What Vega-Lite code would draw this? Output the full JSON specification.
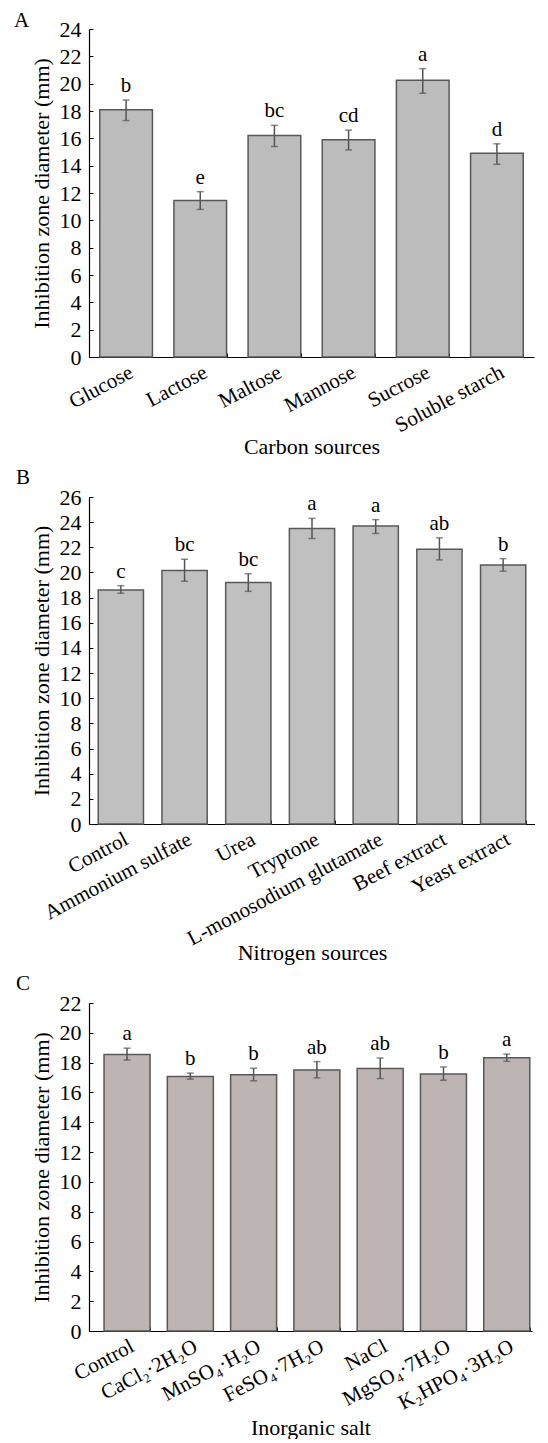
{
  "$schema": "https://vega.github.io/schema/vega-lite/v6.json",
  "background": "white",
  "padding": {"left": 14, "top": 10, "right": 0, "bottom": 0},
  "spacing": 9,
  "config": {
    "view": {"stroke": null},
    "font": "Liberation Serif",
    "title": {"font": "Liberation Serif", "fontSize": 21, "fontWeight": "normal", "color": "#000", "anchor": "start"},
    "axis": {
      "grid": false,
      "domainColor": "#000",
      "domainWidth": 1.2,
      "tickColor": "#000",
      "tickWidth": 1,
      "labelFont": "Liberation Serif",
      "labelFontSize": 21,
      "labelColor": "#000",
      "labelOverlap": false,
      "labelLimit": 0,
      "titleFont": "Liberation Serif",
      "titleFontSize": 22,
      "titleFontWeight": "normal",
      "titleColor": "#000"
    },
    "axisY": {"labelFontSize": 22, "tickSize": -4, "labelPadding": 12, "titlePadding": 6, "labelOverlap": false}
  },
  "datasets": {
    "A": [
      {"cat": "Glucose", "mean": 18.1, "lo": 17.3, "hi": 18.8, "letter": "b"},
      {"cat": "Lactose", "mean": 11.45, "lo": 10.8, "hi": 12.1, "letter": "e"},
      {"cat": "Maltose", "mean": 16.2, "lo": 15.4, "hi": 16.95, "letter": "bc"},
      {"cat": "Mannose", "mean": 15.9, "lo": 15.15, "hi": 16.6, "letter": "cd"},
      {"cat": "Sucrose", "mean": 20.25, "lo": 19.3, "hi": 21.1, "letter": "a"},
      {"cat": "Soluble starch", "mean": 14.9, "lo": 14.1, "hi": 15.6, "letter": "d"}
    ],
    "B": [
      {"cat": "Control", "mean": 18.6, "lo": 18.35, "hi": 18.95, "letter": "c"},
      {"cat": "Ammonium sulfate", "mean": 20.15, "lo": 19.3, "hi": 21.05, "letter": "bc"},
      {"cat": "Urea", "mean": 19.2, "lo": 18.5, "hi": 19.9, "letter": "bc"},
      {"cat": "Tryptone", "mean": 23.5, "lo": 22.7, "hi": 24.3, "letter": "a"},
      {"cat": "L-monosodium glutamate", "mean": 23.7, "lo": 23.1, "hi": 24.2, "letter": "a"},
      {"cat": "Beef extract", "mean": 21.85, "lo": 21.0, "hi": 22.75, "letter": "ab"},
      {"cat": "Yeast extract", "mean": 20.6, "lo": 20.1, "hi": 21.1, "letter": "b"}
    ],
    "C": [
      {"cat": "Control", "mean": 18.55, "lo": 18.17, "hi": 18.97, "letter": "a"},
      {"cat": "CaCl₂·2H₂O", "mean": 17.07, "lo": 16.89, "hi": 17.3, "letter": "b"},
      {"cat": "MnSO₄·H₂O", "mean": 17.18, "lo": 16.78, "hi": 17.62, "letter": "b"},
      {"cat": "FeSO₄·7H₂O", "mean": 17.5, "lo": 16.98, "hi": 18.07, "letter": "ab"},
      {"cat": "NaCl", "mean": 17.6, "lo": 16.93, "hi": 18.31, "letter": "ab"},
      {"cat": "MgSO₄·7H₂O", "mean": 17.24, "lo": 16.82, "hi": 17.71, "letter": "b"},
      {"cat": "K₂HPO₄·3H₂O", "mean": 18.33, "lo": 18.09, "hi": 18.57, "letter": "a"}
    ]
  },
  "vconcat": [
    {
      "width": 445, "height": 328,
      "title": {"text": "A", "dx": -16, "dy": 5, "offset": -8},
      "data": {"name": "A"},
      "encoding": {
        "x": {"field": "cat", "type": "nominal", "sort": null,
          "scale": {"paddingInner": 0.29, "paddingOuter": 0.145},
          "axis": {"title": "Carbon sources", "labelAngle": -28, "tickBand": "extent", "tickSize": -4, "labelPadding": 8, "titlePadding": 1}}
      },
      "layer": [
        {"mark": {"type": "bar", "fill": "#bcbcbc", "stroke": "#585858", "strokeWidth": 1.5},
         "encoding": {"y": {"field": "mean", "type": "quantitative", "title": "Inhibition zone diameter (mm)", "scale": {"domain": [0, 24], "nice": false},
           "axis": {"values": [0,2,4,6,8,10,12,14,16,18,20,22,24]}}}},
        {"mark": {"type": "errorbar", "ticks": {"size": 7, "color": "#555"}, "color": "#555", "thickness": 1.5},
         "encoding": {"y": {"field": "lo", "type": "quantitative", "title": "Inhibition zone diameter (mm)", "axis": {"values": [0,2,4,6,8,10,12,14,16,18,20,22,24]}}, "y2": {"field": "hi"}}},
        {"mark": {"type": "text", "baseline": "bottom", "dy": -4, "fontSize": 21, "font": "Liberation Serif", "color": "#000"},
         "encoding": {"y": {"field": "hi", "type": "quantitative", "title": "Inhibition zone diameter (mm)", "axis": {"values": [0,2,4,6,8,10,12,14,16,18,20,22,24]}}, "text": {"field": "letter"}}}
      ]
    },
    {
      "width": 446, "height": 327,
      "title": {"text": "B", "dx": -14, "offset": -2},
      "data": {"name": "B"},
      "encoding": {
        "x": {"field": "cat", "type": "nominal", "sort": null,
          "scale": {"paddingInner": 0.29, "paddingOuter": 0.145},
          "axis": {"title": "Nitrogen sources", "labelAngle": -28, "tickBand": "extent", "tickSize": -4, "labelPadding": 8, "titlePadding": -6}}
      },
      "layer": [
        {"mark": {"type": "bar", "fill": "#c0c0c0", "stroke": "#585858", "strokeWidth": 1.5},
         "encoding": {"y": {"field": "mean", "type": "quantitative", "title": "Inhibition zone diameter (mm)", "scale": {"domain": [0, 26], "nice": false},
           "axis": {"values": [0,2,4,6,8,10,12,14,16,18,20,22,24,26]}}}},
        {"mark": {"type": "errorbar", "ticks": {"size": 7, "color": "#555"}, "color": "#555", "thickness": 1.5},
         "encoding": {"y": {"field": "lo", "type": "quantitative", "title": "Inhibition zone diameter (mm)", "axis": {"values": [0,2,4,6,8,10,12,14,16,18,20,22,24,26]}}, "y2": {"field": "hi"}}},
        {"mark": {"type": "text", "baseline": "bottom", "dy": -4, "fontSize": 21, "font": "Liberation Serif", "color": "#000"},
         "encoding": {"y": {"field": "hi", "type": "quantitative", "title": "Inhibition zone diameter (mm)", "axis": {"values": [0,2,4,6,8,10,12,14,16,18,20,22,24,26]}}, "text": {"field": "letter"}}}
      ]
    },
    {
      "width": 443, "height": 328,
      "title": {"text": "C", "dx": -14, "offset": -2},
      "data": {"name": "C"},
      "encoding": {
        "x": {"field": "cat", "type": "nominal", "sort": null,
          "scale": {"paddingInner": 0.273, "paddingOuter": 0.1365, "align": 0.87},
          "axis": {"title": "Inorganic salt", "labelAngle": -28, "tickBand": "extent", "tickSize": -4, "labelPadding": 8, "titlePadding": 4}}
      },
      "layer": [
        {"mark": {"type": "bar", "fill": "#bcb5b3", "stroke": "#585858", "strokeWidth": 1.5},
         "encoding": {"y": {"field": "mean", "type": "quantitative", "title": "Inhibition zone diameter (mm)", "scale": {"domain": [0, 22], "nice": false},
           "axis": {"values": [0,2,4,6,8,10,12,14,16,18,20,22]}}}},
        {"mark": {"type": "errorbar", "ticks": {"size": 7, "color": "#555"}, "color": "#555", "thickness": 1.5},
         "encoding": {"y": {"field": "lo", "type": "quantitative", "title": "Inhibition zone diameter (mm)", "axis": {"values": [0,2,4,6,8,10,12,14,16,18,20,22]}}, "y2": {"field": "hi"}}},
        {"mark": {"type": "text", "baseline": "bottom", "dy": -4, "fontSize": 21, "font": "Liberation Serif", "color": "#000"},
         "encoding": {"y": {"field": "hi", "type": "quantitative", "title": "Inhibition zone diameter (mm)", "axis": {"values": [0,2,4,6,8,10,12,14,16,18,20,22]}}, "text": {"field": "letter"}}}
      ]
    }
  ]
}
